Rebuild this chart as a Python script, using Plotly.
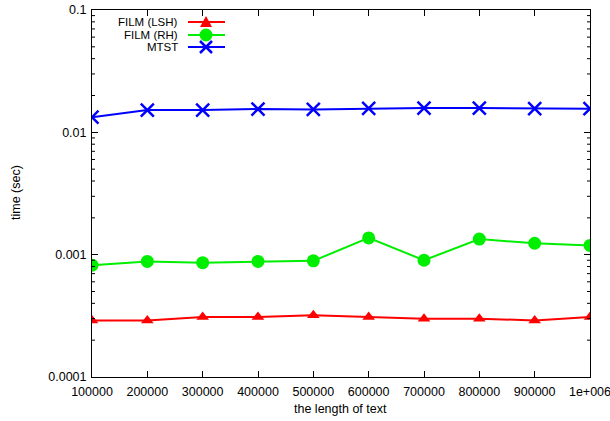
import math
import plotly.graph_objects as go

text_length = [100000, 200000, 300000, 400000, 500000, 600000, 700000, 800000, 900000, 1000000]
x_tick_labels = ["100000", "200000", "300000", "400000", "500000", "600000", "700000", "800000", "900000", "1e+006"]
y_tick_vals = [0.0001, 0.001, 0.01, 0.1]
y_tick_labels = ["0.0001", "0.001", "0.01", "0.1"]
y_minor_vals = [m * d for d in [0.0001, 0.001, 0.01] for m in range(2, 10)]

film_lsh = [0.00029, 0.00029, 0.00031, 0.00031, 0.00032, 0.00031, 0.00030, 0.00030, 0.00029, 0.00031]
film_rh = [0.00082, 0.00088, 0.00086, 0.00088, 0.00089, 0.00137, 0.00090, 0.00134, 0.00124, 0.00119]
mtst = [0.0133, 0.0152, 0.0152, 0.0155, 0.0154, 0.0157, 0.0158, 0.0158, 0.0156, 0.0156]

series_names = ["FILM (LSH)", "FILM (RH)", "MTST"]
colors = ["#ff0000", "#00ee00", "#0000ff"]

W, H = 622, 421
L, R, T, B = 92, 32, 10, 44
pw, ph = W - L - R, H - T - B
FS = 12.5

fig = go.Figure()
fig.add_trace(go.Scatter(x=text_length, y=film_lsh, mode="lines+markers", name=series_names[0],
                         line=dict(color=colors[0], width=2),
                         marker=dict(symbol="triangle-up", size=11, color=colors[0])))
fig.add_trace(go.Scatter(x=text_length, y=film_rh, mode="lines+markers", name=series_names[1],
                         line=dict(color=colors[1], width=2),
                         marker=dict(symbol="circle", size=13, color=colors[1])))
fig.add_trace(go.Scatter(x=text_length, y=mtst, mode="lines+markers", name=series_names[2],
                         line=dict(color=colors[2], width=2),
                         marker=dict(symbol="x-thin", size=13, color=colors[2],
                                     line=dict(color=colors[2], width=2.5))))

def px2paper(px, py):
    return (px - L) / pw, (H - B - py) / ph

shapes = []
annotations = []

# minor log ticks on left and right axes
for v in y_minor_vals:
    yp = (math.log10(v) + 4) / 3
    for xa, x0, x1 in [(0, 0, 3), (1, -3, 0)]:
        shapes.append(dict(type="line", xref="paper", yref="paper", xsizemode="pixel",
                           xanchor=xa, x0=x0, x1=x1, y0=yp, y1=yp,
                           line=dict(color="black", width=1)))

rows_y = [22, 35, 47]
for i, (name, col) in enumerate(zip(series_names, colors)):
    py = rows_y[i]
    x0, y0 = px2paper(188, py)
    x1, _ = px2paper(225, py)
    xm, _ = px2paper(206, py)
    shapes.append(dict(type="line", xref="paper", yref="paper", x0=x0, x1=x1, y0=y0, y1=y0,
                       line=dict(color=col, width=2)))
    if i == 0:
        shapes.append(dict(type="path", xref="paper", yref="paper", xsizemode="pixel", ysizemode="pixel",
                           xanchor=xm, yanchor=y0, path="M -6,-5 L 6,-5 L 0,6 Z",
                           fillcolor=col, line=dict(color=col, width=0)))
    elif i == 1:
        shapes.append(dict(type="circle", xref="paper", yref="paper", xsizemode="pixel", ysizemode="pixel",
                           xanchor=xm, yanchor=y0, x0=-6.5, x1=6.5, y0=-6.5, y1=6.5,
                           fillcolor=col, line=dict(color=col, width=0)))
    else:
        shapes.append(dict(type="path", xref="paper", yref="paper", xsizemode="pixel", ysizemode="pixel",
                           xanchor=xm, yanchor=y0, path="M -6,-6 L 6,6 M -6,6 L 6,-6",
                           line=dict(color=col, width=2.5)))
    annotations.append(dict(text=name, xref="paper", yref="paper", x=px2paper(180, py)[0], y=y0,
                            xanchor="right", yanchor="middle", showarrow=False,
                            font=dict(size=11.5, color="#000000")))

# axis titles
annotations.append(dict(text="the length of text", xref="paper", yref="paper",
                        x=px2paper(340, 409)[0], y=px2paper(340, 409)[1],
                        xanchor="center", yanchor="middle", showarrow=False,
                        font=dict(size=FS, color="black")))
annotations.append(dict(text="time (sec)", xref="paper", yref="paper", textangle=-90,
                        x=px2paper(16, 193)[0], y=px2paper(16, 193)[1],
                        xanchor="center", yanchor="middle", showarrow=False,
                        font=dict(size=FS, color="black")))

axis_common = dict(showline=True, linecolor="black", linewidth=1, mirror="allticks",
                   ticks="inside", ticklen=6, tickcolor="black", showgrid=False, zeroline=False,
                   automargin=False, tickfont=dict(size=FS, color="black"))

fig.update_layout(
    width=W, height=H,
    margin=dict(l=L, r=R, t=T, b=B, autoexpand=False),
    paper_bgcolor="white", plot_bgcolor="white",
    font=dict(family="Liberation Sans, Arial, sans-serif", size=FS, color="black"),
    showlegend=False,
    shapes=shapes,
    annotations=annotations,
    xaxis=dict(range=[100000, 1000000], tickvals=text_length, ticktext=x_tick_labels,
               ticklabelstandoff=3, **axis_common),
    yaxis=dict(type="log", range=[-4, -1], tickvals=y_tick_vals, ticktext=y_tick_labels,
               ticklabelstandoff=2, **axis_common),
)

fig.write_html("out.html", config={"displayModeBar": False},
               post_script="document.body.style.margin='0';document.body.style.overflow='hidden';")
